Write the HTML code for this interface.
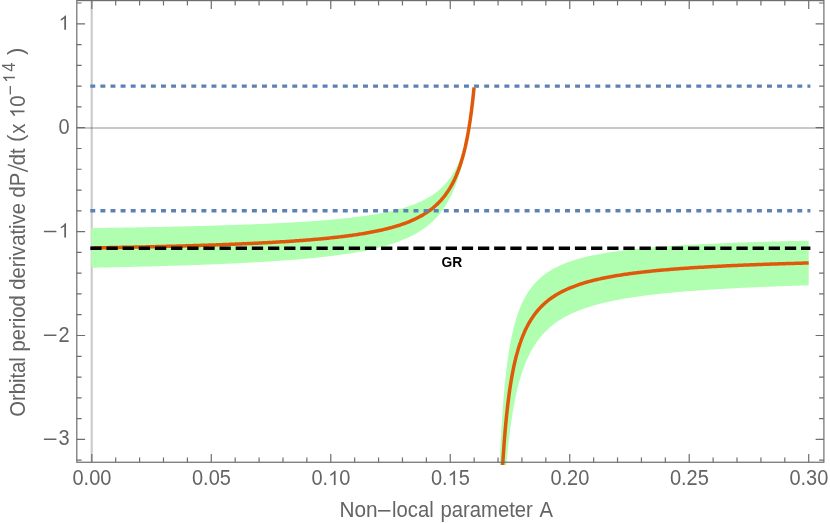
<!DOCTYPE html>
<html><head><meta charset="utf-8"><title>Orbital period derivative</title>
<style>html,body{margin:0;padding:0;background:#fff;width:830px;height:523px;overflow:hidden;font-family:"Liberation Sans",sans-serif}</style></head>
<body>
<svg width="830" height="523" viewBox="0 0 830 523" style="display:block;position:absolute;left:0;top:0;will-change:transform">
<rect width="830" height="523" fill="#ffffff"/>
<defs><clipPath id="c"><rect x="76.8" y="0" width="747.1" height="464.9"/></clipPath></defs>
<line x1="76.8" x2="823.9" y1="127.90" y2="127.90" stroke="#000" stroke-opacity="0.21" stroke-width="2.0"/>
<line x1="91.70" x2="91.70" y1="0.6" y2="462.25" stroke="#000" stroke-opacity="0.21" stroke-width="2.1"/>
<g clip-path="url(#c)">
<path d="M91.32,228.09 L92.60,228.07 L93.88,228.05 L95.16,228.03 L96.44,228.01 L97.72,228.00 L99.00,227.98 L100.28,227.96 L101.56,227.94 L102.84,227.92 L104.12,227.90 L105.40,227.88 L106.68,227.86 L107.96,227.84 L109.24,227.82 L110.52,227.80 L111.80,227.79 L113.08,227.77 L114.36,227.74 L115.64,227.72 L116.92,227.70 L118.20,227.68 L119.48,227.66 L120.76,227.64 L122.04,227.62 L123.32,227.60 L124.60,227.58 L125.88,227.56 L127.16,227.54 L128.44,227.51 L129.72,227.49 L131.00,227.47 L132.28,227.45 L133.56,227.43 L134.85,227.40 L136.13,227.38 L137.41,227.36 L138.69,227.33 L139.97,227.31 L141.25,227.29 L142.53,227.26 L143.81,227.24 L145.09,227.22 L146.37,227.19 L147.65,227.17 L148.93,227.14 L150.21,227.12 L151.49,227.10 L152.77,227.07 L154.05,227.04 L155.33,227.02 L156.61,226.99 L157.89,226.97 L159.17,226.94 L160.45,226.92 L161.73,226.89 L163.01,226.86 L164.29,226.84 L165.57,226.81 L166.85,226.78 L168.13,226.76 L169.41,226.73 L170.69,226.70 L171.97,226.67 L173.25,226.64 L174.53,226.61 L175.81,226.59 L177.09,226.56 L178.37,226.53 L179.65,226.50 L180.93,226.47 L182.21,226.44 L183.49,226.41 L184.77,226.38 L186.05,226.35 L187.33,226.32 L188.61,226.29 L189.89,226.25 L191.17,226.22 L192.45,226.19 L193.73,226.16 L195.01,226.12 L196.29,226.09 L197.57,226.06 L198.85,226.03 L200.13,225.99 L201.41,225.96 L202.69,225.92 L203.97,225.89 L205.25,225.85 L206.53,225.82 L207.81,225.78 L209.09,225.75 L210.37,225.71 L211.65,225.67 L212.93,225.64 L214.21,225.60 L215.49,225.56 L216.77,225.52 L218.05,225.49 L219.33,225.45 L220.61,225.41 L221.89,225.37 L223.17,225.33 L224.45,225.29 L225.73,225.25 L227.01,225.21 L228.29,225.17 L229.57,225.12 L230.85,225.08 L232.13,225.04 L233.41,225.00 L234.69,224.95 L235.97,224.91 L237.25,224.86 L238.53,224.82 L239.81,224.77 L241.09,224.73 L242.37,224.68 L243.65,224.63 L244.93,224.59 L246.21,224.54 L247.49,224.49 L248.77,224.44 L250.05,224.39 L251.33,224.34 L252.61,224.29 L253.89,224.24 L255.17,224.19 L256.45,224.14 L257.73,224.09 L259.01,224.03 L260.29,223.98 L261.57,223.93 L262.85,223.87 L264.13,223.82 L265.41,223.76 L266.69,223.70 L267.97,223.65 L269.25,223.59 L270.53,223.53 L271.81,223.47 L273.09,223.41 L274.37,223.35 L275.65,223.29 L276.93,223.22 L278.21,223.16 L279.49,223.10 L280.78,223.03 L282.06,222.97 L283.34,222.90 L284.62,222.83 L285.90,222.76 L287.18,222.70 L288.46,222.63 L289.74,222.56 L291.02,222.48 L292.30,222.41 L293.58,222.34 L294.86,222.26 L296.14,222.19 L297.42,222.11 L298.70,222.04 L299.98,221.96 L301.26,221.88 L302.54,221.80 L303.82,221.72 L305.10,221.63 L306.38,221.55 L307.66,221.46 L308.94,221.38 L310.22,221.29 L311.50,221.20 L312.78,221.11 L314.06,221.02 L315.34,220.93 L316.62,220.83 L317.90,220.74 L319.18,220.64 L320.46,220.54 L321.74,220.44 L323.02,220.34 L324.30,220.24 L325.58,220.13 L326.86,220.03 L328.14,219.92 L329.42,219.81 L330.70,219.70 L331.98,219.58 L333.26,219.47 L334.54,219.35 L335.82,219.23 L337.10,219.11 L338.38,218.99 L339.66,218.86 L340.94,218.74 L342.22,218.61 L343.50,218.48 L344.78,218.34 L346.06,218.21 L347.34,218.07 L348.62,217.93 L349.90,217.78 L351.18,217.64 L352.46,217.49 L353.74,217.33 L355.02,217.18 L356.30,217.02 L357.58,216.86 L358.86,216.70 L360.14,216.53 L361.42,216.36 L362.70,216.19 L363.98,216.01 L365.26,215.83 L366.54,215.64 L367.82,215.45 L369.10,215.26 L370.38,215.06 L371.66,214.86 L372.94,214.66 L374.22,214.45 L375.50,214.23 L376.78,214.01 L378.06,213.79 L379.34,213.56 L380.62,213.32 L381.90,213.08 L383.18,212.83 L384.46,212.58 L385.74,212.32 L387.02,212.06 L388.30,211.78 L389.58,211.50 L390.86,211.22 L392.14,210.92 L393.42,210.62 L394.70,210.31 L395.98,210.00 L397.26,209.67 L398.54,209.33 L399.82,208.99 L401.10,208.63 L402.38,208.27 L403.66,207.89 L404.94,207.50 L406.22,207.10 L407.50,206.69 L408.78,206.26 L410.06,205.83 L411.34,205.37 L412.62,204.90 L413.90,204.42 L415.18,203.92 L416.46,203.40 L417.74,202.87 L419.02,202.31 L420.30,201.74 L421.58,201.14 L422.86,200.52 L424.14,199.87 L425.43,199.20 L426.71,198.51 L427.99,197.78 L429.27,197.02 L430.55,196.24 L431.83,195.41 L433.11,194.55 L434.39,193.65 L435.67,192.71 L436.95,191.72 L438.23,190.68 L439.51,189.59 L440.79,188.45 L442.07,187.24 L443.35,185.97 L444.63,184.62 L445.91,183.20 L447.19,181.69 L448.47,180.09 L449.75,178.38 L451.03,176.57 L452.31,174.63 L453.59,172.55 L454.87,170.33 L456.15,167.93 L457.43,165.35 L458.71,162.56 L459.99,159.52 L461.27,156.22 L462.55,152.61 L463.83,148.65 L465.11,144.28 L466.39,139.44 L467.67,134.04 L468.95,127.98 L470.23,121.14 L471.51,113.36 L472.79,104.42 L474.07,94.04 L474.07,80.73 L472.79,95.21 L471.51,107.69 L470.23,118.55 L468.95,128.09 L467.67,136.54 L466.39,144.07 L465.11,150.83 L463.83,156.93 L462.55,162.46 L461.27,167.50 L459.99,172.10 L458.71,176.33 L457.43,180.23 L456.15,183.83 L454.87,187.17 L453.59,190.28 L452.31,193.18 L451.03,195.88 L449.75,198.41 L448.47,200.79 L447.19,203.02 L445.91,205.13 L444.63,207.12 L443.35,208.99 L442.07,210.77 L440.79,212.46 L439.51,214.05 L438.23,215.57 L436.95,217.02 L435.67,218.40 L434.39,219.72 L433.11,220.97 L431.83,222.17 L430.55,223.32 L429.27,224.42 L427.99,225.48 L426.71,226.49 L425.43,227.46 L424.14,228.40 L422.86,229.30 L421.58,230.16 L420.30,230.99 L419.02,231.80 L417.74,232.57 L416.46,233.32 L415.18,234.04 L413.90,234.74 L412.62,235.42 L411.34,236.07 L410.06,236.70 L408.78,237.31 L407.50,237.91 L406.22,238.48 L404.94,239.04 L403.66,239.58 L402.38,240.11 L401.10,240.62 L399.82,241.11 L398.54,241.60 L397.26,242.06 L395.98,242.52 L394.70,242.96 L393.42,243.40 L392.14,243.82 L390.86,244.23 L389.58,244.63 L388.30,245.01 L387.02,245.39 L385.74,245.76 L384.46,246.13 L383.18,246.48 L381.90,246.82 L380.62,247.16 L379.34,247.49 L378.06,247.81 L376.78,248.12 L375.50,248.43 L374.22,248.73 L372.94,249.02 L371.66,249.31 L370.38,249.59 L369.10,249.86 L367.82,250.13 L366.54,250.40 L365.26,250.65 L363.98,250.91 L362.70,251.16 L361.42,251.40 L360.14,251.64 L358.86,251.87 L357.58,252.10 L356.30,252.32 L355.02,252.54 L353.74,252.76 L352.46,252.97 L351.18,253.18 L349.90,253.38 L348.62,253.58 L347.34,253.78 L346.06,253.98 L344.78,254.17 L343.50,254.35 L342.22,254.54 L340.94,254.72 L339.66,254.89 L338.38,255.07 L337.10,255.24 L335.82,255.41 L334.54,255.57 L333.26,255.74 L331.98,255.90 L330.70,256.06 L329.42,256.21 L328.14,256.36 L326.86,256.51 L325.58,256.66 L324.30,256.81 L323.02,256.95 L321.74,257.09 L320.46,257.23 L319.18,257.37 L317.90,257.51 L316.62,257.64 L315.34,257.77 L314.06,257.90 L312.78,258.03 L311.50,258.15 L310.22,258.28 L308.94,258.40 L307.66,258.52 L306.38,258.64 L305.10,258.76 L303.82,258.87 L302.54,258.98 L301.26,259.10 L299.98,259.21 L298.70,259.32 L297.42,259.43 L296.14,259.53 L294.86,259.64 L293.58,259.74 L292.30,259.84 L291.02,259.94 L289.74,260.04 L288.46,260.14 L287.18,260.24 L285.90,260.34 L284.62,260.43 L283.34,260.52 L282.06,260.62 L280.78,260.71 L279.49,260.80 L278.21,260.89 L276.93,260.98 L275.65,261.06 L274.37,261.15 L273.09,261.23 L271.81,261.32 L270.53,261.40 L269.25,261.48 L267.97,261.56 L266.69,261.64 L265.41,261.72 L264.13,261.80 L262.85,261.88 L261.57,261.96 L260.29,262.03 L259.01,262.11 L257.73,262.18 L256.45,262.25 L255.17,262.33 L253.89,262.40 L252.61,262.47 L251.33,262.54 L250.05,262.61 L248.77,262.68 L247.49,262.74 L246.21,262.81 L244.93,262.88 L243.65,262.94 L242.37,263.01 L241.09,263.07 L239.81,263.14 L238.53,263.20 L237.25,263.26 L235.97,263.33 L234.69,263.39 L233.41,263.45 L232.13,263.51 L230.85,263.57 L229.57,263.63 L228.29,263.68 L227.01,263.74 L225.73,263.80 L224.45,263.86 L223.17,263.91 L221.89,263.97 L220.61,264.02 L219.33,264.08 L218.05,264.13 L216.77,264.18 L215.49,264.24 L214.21,264.29 L212.93,264.34 L211.65,264.39 L210.37,264.44 L209.09,264.50 L207.81,264.55 L206.53,264.60 L205.25,264.64 L203.97,264.69 L202.69,264.74 L201.41,264.79 L200.13,264.84 L198.85,264.88 L197.57,264.93 L196.29,264.98 L195.01,265.02 L193.73,265.07 L192.45,265.11 L191.17,265.16 L189.89,265.20 L188.61,265.25 L187.33,265.29 L186.05,265.33 L184.77,265.38 L183.49,265.42 L182.21,265.46 L180.93,265.50 L179.65,265.54 L178.37,265.59 L177.09,265.63 L175.81,265.67 L174.53,265.71 L173.25,265.75 L171.97,265.79 L170.69,265.83 L169.41,265.86 L168.13,265.90 L166.85,265.94 L165.57,265.98 L164.29,266.02 L163.01,266.05 L161.73,266.09 L160.45,266.13 L159.17,266.16 L157.89,266.20 L156.61,266.24 L155.33,266.27 L154.05,266.31 L152.77,266.34 L151.49,266.38 L150.21,266.41 L148.93,266.45 L147.65,266.48 L146.37,266.51 L145.09,266.55 L143.81,266.58 L142.53,266.61 L141.25,266.65 L139.97,266.68 L138.69,266.71 L137.41,266.74 L136.13,266.78 L134.85,266.81 L133.56,266.84 L132.28,266.87 L131.00,266.90 L129.72,266.93 L128.44,266.96 L127.16,266.99 L125.88,267.02 L124.60,267.05 L123.32,267.08 L122.04,267.11 L120.76,267.14 L119.48,267.17 L118.20,267.20 L116.92,267.23 L115.64,267.26 L114.36,267.28 L113.08,267.31 L111.80,267.34 L110.52,267.37 L109.24,267.39 L107.96,267.42 L106.68,267.45 L105.40,267.48 L104.12,267.50 L102.84,267.53 L101.56,267.56 L100.28,267.58 L99.00,267.61 L97.72,267.63 L96.44,267.66 L95.16,267.69 L93.88,267.71 L92.60,267.74 L91.32,267.76Z" fill="#b0ffb0"/>
<path d="M495.66,627.79 L495.79,619.21 L495.91,610.99 L496.04,603.12 L496.16,595.56 L496.29,588.31 L496.41,581.34 L496.54,574.65 L496.67,568.20 L496.79,562.00 L496.92,556.02 L497.04,550.25 L497.17,544.69 L497.29,539.32 L497.42,534.13 L497.55,529.11 L497.67,524.26 L497.80,519.57 L497.92,515.02 L498.05,510.62 L498.17,506.36 L498.30,502.22 L498.43,498.20 L498.55,494.31 L498.68,490.53 L498.80,486.85 L498.93,483.28 L499.06,479.81 L499.18,476.43 L499.31,473.15 L499.43,469.95 L499.56,466.84 L499.68,463.81 L499.81,460.85 L499.94,457.98 L500.06,455.17 L500.19,452.43 L500.31,449.76 L500.44,447.15 L500.56,444.61 L500.69,442.13 L500.82,439.70 L500.94,437.33 L501.07,435.01 L501.19,432.75 L501.32,430.53 L501.44,428.37 L501.57,426.25 L501.70,424.18 L501.82,422.15 L501.95,420.16 L502.07,418.22 L502.20,416.31 L502.33,414.45 L502.45,412.62 L502.58,410.83 L502.70,409.07 L502.83,407.35 L502.95,405.66 L503.08,404.01 L503.21,402.38 L503.33,400.79 L503.46,399.23 L503.58,397.69 L503.71,396.19 L503.83,394.71 L503.96,393.26 L504.09,391.83 L504.21,390.43 L504.34,389.05 L504.46,387.70 L504.59,386.37 L504.72,385.07 L504.84,383.78 L504.97,382.52 L505.09,381.28 L505.22,380.06 L505.34,378.86 L505.47,377.68 L505.60,376.51 L505.72,375.37 L505.85,374.25 L505.97,373.14 L506.10,372.05 L506.22,370.97 L506.35,369.92 L506.48,368.88 L506.60,367.85 L506.73,366.84 L506.85,365.85 L506.98,364.87 L507.10,363.90 L507.23,362.95 L507.36,362.01 L507.48,361.09 L507.61,360.18 L507.73,359.28 L507.86,358.40 L507.99,357.52 L508.11,356.66 L508.24,355.81 L508.36,354.98 L508.49,354.15 L508.61,353.34 L508.74,352.53 L508.87,351.74 L508.99,350.96 L509.12,350.19 L509.24,349.42 L509.37,348.67 L509.49,347.93 L509.62,347.20 L509.75,346.47 L509.87,345.76 L510.00,345.05 L510.12,344.36 L510.25,343.67 L510.37,342.99 L510.50,342.32 L510.63,341.66 L510.75,341.00 L510.88,340.35 L511.00,339.71 L511.13,339.08 L511.26,338.46 L511.38,337.84 L511.51,337.23 L511.63,336.63 L511.76,336.03 L511.88,335.45 L512.01,334.86 L512.14,334.29 L512.26,333.72 L512.39,333.16 L512.51,332.60 L512.64,332.05 L512.76,331.51 L512.89,330.97 L513.02,330.44 L513.14,329.91 L513.27,329.39 L513.39,328.88 L513.52,328.37 L513.64,327.86 L513.77,327.36 L513.90,326.87 L514.02,326.38 L514.15,325.90 L514.27,325.42 L514.40,324.95 L514.53,324.48 L514.65,324.02 L514.78,323.56 L514.90,323.10 L515.03,322.65 L515.15,322.21 L515.28,321.77 L515.41,321.33 L515.53,320.90 L515.66,320.47 L515.78,320.05 L515.91,319.63 L516.03,319.21 L516.16,318.80 L516.29,318.39 L516.41,317.99 L516.54,317.59 L516.66,317.20 L516.79,316.80 L516.92,316.41 L517.04,316.03 L517.17,315.65 L517.29,315.27 L517.42,314.90 L517.54,314.52 L517.67,314.16 L517.80,313.79 L517.92,313.43 L518.05,313.07 L518.17,312.72 L518.30,312.37 L518.42,312.02 L518.55,311.67 L518.68,311.33 L518.80,310.99 L518.93,310.66 L519.05,310.32 L519.18,309.99 L519.30,309.66 L519.43,309.34 L519.56,309.02 L519.68,308.70 L519.81,308.38 L519.93,308.07 L520.06,307.76 L520.19,307.45 L520.31,307.14 L520.44,306.84 L520.56,306.54 L520.69,306.24 L520.81,305.94 L520.94,305.65 L521.07,305.36 L521.19,305.07 L521.32,304.78 L521.44,304.50 L521.57,304.21 L521.69,303.93 L521.82,303.65 L521.95,303.38 L522.07,303.11 L522.20,302.83 L522.32,302.57 L522.45,302.30 L522.57,302.03 L522.70,301.77 L522.83,301.51 L522.95,301.25 L523.08,300.99 L523.20,300.74 L523.33,300.48 L523.46,300.23 L523.58,299.98 L523.71,299.74 L523.83,299.49 L523.96,299.25 L524.08,299.01 L524.21,298.76 L524.34,298.53 L524.46,298.29 L524.59,298.05 L524.71,297.82 L524.84,297.59 L524.96,297.36 L525.09,297.13 L525.22,296.90 L525.34,296.68 L525.47,296.46 L525.59,296.23 L525.72,296.01 L525.84,295.79 L525.97,295.58 L526.10,295.36 L526.22,295.15 L526.35,294.93 L526.47,294.72 L526.60,294.51 L526.73,294.30 L526.85,294.10 L526.98,293.89 L527.10,293.69 L527.23,293.49 L527.35,293.28 L527.48,293.08 L527.61,292.88 L527.73,292.69 L527.86,292.49 L527.98,292.30 L528.11,292.10 L528.23,291.91 L528.36,291.72 L528.49,291.53 L528.61,291.34 L528.74,291.15 L528.86,290.97 L528.99,290.78 L529.12,290.60 L529.24,290.42 L529.37,290.24 L529.49,290.06 L529.62,289.88 L529.74,289.70 L529.87,289.52 L530.00,289.35 L530.12,289.17 L530.25,289.00 L530.37,288.83 L530.50,288.65 L530.62,288.48 L530.75,288.31 L530.88,288.15 L531.00,287.98 L531.13,287.81 L531.25,287.65 L531.38,287.48 L531.50,287.32 L531.63,287.16 L531.76,287.00 L531.88,286.84 L532.01,286.68 L532.13,286.52 L532.26,286.36 L532.39,286.21 L532.51,286.05 L532.64,285.90 L532.76,285.74 L532.89,285.59 L533.01,285.44 L533.14,285.29 L533.27,285.14 L533.39,284.99 L533.52,284.84 L533.64,284.69 L533.77,284.55 L533.89,284.40 L534.02,284.25 L534.15,284.11 L534.27,283.97 L534.40,283.82 L534.52,283.68 L534.65,283.54 L534.77,283.40 L534.90,283.26 L535.03,283.12 L535.15,282.99 L535.28,282.85 L535.40,282.71 L535.53,282.58 L535.66,282.44 L535.78,282.31 L535.91,282.18 L536.03,282.04 L536.16,281.91 L536.28,281.78 L536.41,281.65 L536.54,281.52 L536.66,281.39 L536.79,281.26 L536.91,281.13 L537.04,281.01 L537.16,280.88 L537.29,280.76 L537.42,280.63 L537.54,280.51 L537.67,280.38 L537.79,280.26 L537.92,280.14 L538.05,280.02 L538.17,279.89 L538.30,279.77 L538.42,279.65 L538.55,279.54 L538.67,279.42 L538.80,279.30 L538.93,279.18 L539.05,279.07 L539.18,278.95 L539.30,278.83 L539.43,278.72 L539.55,278.60 L539.68,278.49 L539.81,278.38 L539.93,278.26 L540.06,278.15 L540.18,278.04 L540.31,277.93 L540.43,277.82 L540.56,277.71 L540.69,277.60 L540.81,277.49 L540.94,277.38 L541.06,277.28 L541.19,277.17 L541.32,277.06 L541.44,276.96 L541.57,276.85 L541.69,276.75 L541.82,276.64 L541.94,276.54 L542.07,276.43 L542.20,276.33 L542.32,276.23 L542.45,276.13 L542.57,276.02 L542.70,275.92 L542.82,275.82 L542.95,275.72 L543.08,275.62 L543.20,275.52 L543.33,275.42 L543.45,275.33 L543.58,275.23 L543.70,275.13 L543.83,275.03 L543.96,274.94 L544.08,274.84 L544.21,274.75 L544.33,274.65 L544.46,274.56 L544.59,274.46 L544.71,274.37 L544.84,274.27 L544.96,274.18 L545.09,274.09 L545.21,274.00 L545.34,273.91 L545.47,273.81 L545.59,273.72 L545.72,273.63 L545.84,273.54 L547.16,272.62 L548.48,271.74 L549.81,270.90 L551.13,270.10 L552.45,269.33 L553.77,268.59 L555.09,267.88 L556.41,267.20 L557.73,266.54 L559.05,265.91 L560.37,265.31 L561.69,264.73 L563.02,264.16 L564.34,263.62 L565.66,263.10 L566.98,262.59 L568.30,262.11 L569.62,261.63 L570.94,261.18 L572.26,260.74 L573.58,260.31 L574.90,259.89 L576.22,259.49 L577.55,259.10 L578.87,258.72 L580.19,258.36 L581.51,258.00 L582.83,257.65 L584.15,257.32 L585.47,256.99 L586.79,256.67 L588.11,256.36 L589.43,256.06 L590.75,255.77 L592.08,255.48 L593.40,255.20 L594.72,254.93 L596.04,254.67 L597.36,254.41 L598.68,254.16 L600.00,253.91 L601.32,253.67 L602.64,253.44 L603.96,253.21 L605.29,252.98 L606.61,252.76 L607.93,252.55 L609.25,252.34 L610.57,252.14 L611.89,251.94 L613.21,251.74 L614.53,251.55 L615.85,251.36 L617.17,251.18 L618.49,251.00 L619.82,250.82 L621.14,250.65 L622.46,250.48 L623.78,250.31 L625.10,250.15 L626.42,249.99 L627.74,249.83 L629.06,249.68 L630.38,249.53 L631.70,249.38 L633.03,249.24 L634.35,249.09 L635.67,248.95 L636.99,248.82 L638.31,248.68 L639.63,248.55 L640.95,248.42 L642.27,248.29 L643.59,248.17 L644.91,248.04 L646.23,247.92 L647.56,247.80 L648.88,247.68 L650.20,247.57 L651.52,247.45 L652.84,247.34 L654.16,247.23 L655.48,247.12 L656.80,247.02 L658.12,246.91 L659.44,246.81 L660.76,246.71 L662.09,246.61 L663.41,246.51 L664.73,246.41 L666.05,246.32 L667.37,246.22 L668.69,246.13 L670.01,246.04 L671.33,245.95 L672.65,245.86 L673.97,245.77 L675.30,245.69 L676.62,245.60 L677.94,245.52 L679.26,245.43 L680.58,245.35 L681.90,245.27 L683.22,245.19 L684.54,245.11 L685.86,245.04 L687.18,244.96 L688.50,244.89 L689.83,244.81 L691.15,244.74 L692.47,244.67 L693.79,244.60 L695.11,244.53 L696.43,244.46 L697.75,244.39 L699.07,244.32 L700.39,244.25 L701.71,244.19 L703.03,244.12 L704.36,244.06 L705.68,243.99 L707.00,243.93 L708.32,243.87 L709.64,243.81 L710.96,243.75 L712.28,243.69 L713.60,243.63 L714.92,243.57 L716.24,243.51 L717.57,243.45 L718.89,243.40 L720.21,243.34 L721.53,243.29 L722.85,243.23 L724.17,243.18 L725.49,243.12 L726.81,243.07 L728.13,243.02 L729.45,242.97 L730.77,242.92 L732.10,242.87 L733.42,242.82 L734.74,242.77 L736.06,242.72 L737.38,242.67 L738.70,242.62 L740.02,242.58 L741.34,242.53 L742.66,242.48 L743.98,242.44 L745.30,242.39 L746.63,242.35 L747.95,242.30 L749.27,242.26 L750.59,242.21 L751.91,242.17 L753.23,242.13 L754.55,242.09 L755.87,242.04 L757.19,242.00 L758.51,241.96 L759.84,241.92 L761.16,241.88 L762.48,241.84 L763.80,241.80 L765.12,241.76 L766.44,241.72 L767.76,241.69 L769.08,241.65 L770.40,241.61 L771.72,241.57 L773.04,241.54 L774.37,241.50 L775.69,241.46 L777.01,241.43 L778.33,241.39 L779.65,241.36 L780.97,241.32 L782.29,241.29 L783.61,241.25 L784.93,241.22 L786.25,241.19 L787.57,241.15 L788.90,241.12 L790.22,241.09 L791.54,241.05 L792.86,241.02 L794.18,240.99 L795.50,240.96 L796.82,240.93 L798.14,240.90 L799.46,240.86 L800.78,240.83 L802.11,240.80 L803.43,240.77 L804.75,240.74 L806.07,240.71 L807.39,240.69 L808.71,240.66 L808.71,285.30 L807.39,285.34 L806.07,285.38 L804.75,285.42 L803.43,285.46 L802.11,285.50 L800.78,285.55 L799.46,285.59 L798.14,285.63 L796.82,285.68 L795.50,285.72 L794.18,285.76 L792.86,285.81 L791.54,285.85 L790.22,285.90 L788.90,285.94 L787.57,285.99 L786.25,286.04 L784.93,286.08 L783.61,286.13 L782.29,286.18 L780.97,286.23 L779.65,286.28 L778.33,286.32 L777.01,286.37 L775.69,286.42 L774.37,286.47 L773.04,286.53 L771.72,286.58 L770.40,286.63 L769.08,286.68 L767.76,286.73 L766.44,286.79 L765.12,286.84 L763.80,286.90 L762.48,286.95 L761.16,287.01 L759.84,287.06 L758.51,287.12 L757.19,287.18 L755.87,287.23 L754.55,287.29 L753.23,287.35 L751.91,287.41 L750.59,287.47 L749.27,287.53 L747.95,287.59 L746.63,287.66 L745.30,287.72 L743.98,287.78 L742.66,287.85 L741.34,287.91 L740.02,287.98 L738.70,288.04 L737.38,288.11 L736.06,288.18 L734.74,288.24 L733.42,288.31 L732.10,288.38 L730.77,288.45 L729.45,288.52 L728.13,288.60 L726.81,288.67 L725.49,288.74 L724.17,288.82 L722.85,288.89 L721.53,288.97 L720.21,289.04 L718.89,289.12 L717.57,289.20 L716.24,289.28 L714.92,289.36 L713.60,289.44 L712.28,289.53 L710.96,289.61 L709.64,289.69 L708.32,289.78 L707.00,289.87 L705.68,289.95 L704.36,290.04 L703.03,290.13 L701.71,290.22 L700.39,290.32 L699.07,290.41 L697.75,290.50 L696.43,290.60 L695.11,290.70 L693.79,290.79 L692.47,290.89 L691.15,290.99 L689.83,291.10 L688.50,291.20 L687.18,291.30 L685.86,291.41 L684.54,291.52 L683.22,291.63 L681.90,291.74 L680.58,291.85 L679.26,291.96 L677.94,292.08 L676.62,292.20 L675.30,292.31 L673.97,292.44 L672.65,292.56 L671.33,292.68 L670.01,292.81 L668.69,292.93 L667.37,293.06 L666.05,293.20 L664.73,293.33 L663.41,293.46 L662.09,293.60 L660.76,293.74 L659.44,293.88 L658.12,294.03 L656.80,294.17 L655.48,294.32 L654.16,294.47 L652.84,294.63 L651.52,294.78 L650.20,294.94 L648.88,295.10 L647.56,295.27 L646.23,295.43 L644.91,295.60 L643.59,295.78 L642.27,295.95 L640.95,296.13 L639.63,296.31 L638.31,296.50 L636.99,296.68 L635.67,296.88 L634.35,297.07 L633.03,297.27 L631.70,297.47 L630.38,297.68 L629.06,297.89 L627.74,298.10 L626.42,298.32 L625.10,298.54 L623.78,298.77 L622.46,299.00 L621.14,299.24 L619.82,299.48 L618.49,299.73 L617.17,299.98 L615.85,300.23 L614.53,300.49 L613.21,300.76 L611.89,301.04 L610.57,301.31 L609.25,301.60 L607.93,301.89 L606.61,302.19 L605.29,302.50 L603.96,302.81 L602.64,303.13 L601.32,303.45 L600.00,303.79 L598.68,304.13 L597.36,304.48 L596.04,304.85 L594.72,305.21 L593.40,305.59 L592.08,305.98 L590.75,306.38 L589.43,306.79 L588.11,307.21 L586.79,307.64 L585.47,308.09 L584.15,308.54 L582.83,309.01 L581.51,309.50 L580.19,309.99 L578.87,310.51 L577.55,311.03 L576.22,311.58 L574.90,312.14 L573.58,312.72 L572.26,313.31 L570.94,313.93 L569.62,314.57 L568.30,315.22 L566.98,315.91 L565.66,316.61 L564.34,317.34 L563.02,318.10 L561.69,318.88 L560.37,319.69 L559.05,320.54 L557.73,321.42 L556.41,322.33 L555.09,323.28 L553.77,324.27 L552.45,325.30 L551.13,326.37 L549.81,327.49 L548.48,328.67 L547.16,329.90 L545.84,331.18 L545.72,331.31 L545.59,331.43 L545.47,331.56 L545.34,331.69 L545.21,331.82 L545.09,331.94 L544.96,332.07 L544.84,332.20 L544.71,332.33 L544.59,332.46 L544.46,332.60 L544.33,332.73 L544.21,332.86 L544.08,332.99 L543.96,333.13 L543.83,333.26 L543.70,333.40 L543.58,333.53 L543.45,333.67 L543.33,333.81 L543.20,333.94 L543.08,334.08 L542.95,334.22 L542.82,334.36 L542.70,334.50 L542.57,334.64 L542.45,334.78 L542.32,334.93 L542.20,335.07 L542.07,335.21 L541.94,335.36 L541.82,335.50 L541.69,335.65 L541.57,335.80 L541.44,335.94 L541.32,336.09 L541.19,336.24 L541.06,336.39 L540.94,336.54 L540.81,336.69 L540.69,336.84 L540.56,337.00 L540.43,337.15 L540.31,337.30 L540.18,337.46 L540.06,337.61 L539.93,337.77 L539.81,337.93 L539.68,338.08 L539.55,338.24 L539.43,338.40 L539.30,338.56 L539.18,338.72 L539.05,338.89 L538.93,339.05 L538.80,339.21 L538.67,339.38 L538.55,339.54 L538.42,339.71 L538.30,339.88 L538.17,340.04 L538.05,340.21 L537.92,340.38 L537.79,340.55 L537.67,340.72 L537.54,340.90 L537.42,341.07 L537.29,341.24 L537.16,341.42 L537.04,341.60 L536.91,341.77 L536.79,341.95 L536.66,342.13 L536.54,342.31 L536.41,342.49 L536.28,342.67 L536.16,342.86 L536.03,343.04 L535.91,343.23 L535.78,343.41 L535.66,343.60 L535.53,343.79 L535.40,343.98 L535.28,344.17 L535.15,344.36 L535.03,344.55 L534.90,344.74 L534.77,344.94 L534.65,345.13 L534.52,345.33 L534.40,345.53 L534.27,345.73 L534.15,345.93 L534.02,346.13 L533.89,346.33 L533.77,346.53 L533.64,346.74 L533.52,346.94 L533.39,347.15 L533.27,347.36 L533.14,347.57 L533.01,347.78 L532.89,347.99 L532.76,348.20 L532.64,348.42 L532.51,348.63 L532.39,348.85 L532.26,349.07 L532.13,349.29 L532.01,349.51 L531.88,349.73 L531.76,349.95 L531.63,350.18 L531.50,350.40 L531.38,350.63 L531.25,350.86 L531.13,351.09 L531.00,351.32 L530.88,351.56 L530.75,351.79 L530.62,352.03 L530.50,352.26 L530.37,352.50 L530.25,352.74 L530.12,352.99 L530.00,353.23 L529.87,353.48 L529.74,353.72 L529.62,353.97 L529.49,354.22 L529.37,354.47 L529.24,354.72 L529.12,354.98 L528.99,355.24 L528.86,355.49 L528.74,355.75 L528.61,356.01 L528.49,356.28 L528.36,356.54 L528.23,356.81 L528.11,357.08 L527.98,357.35 L527.86,357.62 L527.73,357.89 L527.61,358.17 L527.48,358.44 L527.35,358.72 L527.23,359.01 L527.10,359.29 L526.98,359.57 L526.85,359.86 L526.73,360.15 L526.60,360.44 L526.47,360.73 L526.35,361.03 L526.22,361.32 L526.10,361.62 L525.97,361.92 L525.84,362.23 L525.72,362.53 L525.59,362.84 L525.47,363.15 L525.34,363.46 L525.22,363.78 L525.09,364.09 L524.96,364.41 L524.84,364.73 L524.71,365.05 L524.59,365.38 L524.46,365.71 L524.34,366.04 L524.21,366.37 L524.08,366.71 L523.96,367.04 L523.83,367.38 L523.71,367.73 L523.58,368.07 L523.46,368.42 L523.33,368.77 L523.20,369.12 L523.08,369.48 L522.95,369.84 L522.83,370.20 L522.70,370.56 L522.57,370.93 L522.45,371.30 L522.32,371.67 L522.20,372.05 L522.07,372.43 L521.95,372.81 L521.82,373.19 L521.69,373.58 L521.57,373.97 L521.44,374.37 L521.32,374.76 L521.19,375.16 L521.07,375.57 L520.94,375.97 L520.81,376.38 L520.69,376.80 L520.56,377.21 L520.44,377.63 L520.31,378.06 L520.19,378.49 L520.06,378.92 L519.93,379.35 L519.81,379.79 L519.68,380.23 L519.56,380.68 L519.43,381.13 L519.30,381.58 L519.18,382.04 L519.05,382.50 L518.93,382.96 L518.80,383.43 L518.68,383.90 L518.55,384.38 L518.42,384.86 L518.30,385.35 L518.17,385.84 L518.05,386.34 L517.92,386.83 L517.80,387.34 L517.67,387.85 L517.54,388.36 L517.42,388.88 L517.29,389.40 L517.17,389.93 L517.04,390.46 L516.92,391.00 L516.79,391.54 L516.66,392.09 L516.54,392.64 L516.41,393.20 L516.29,393.76 L516.16,394.33 L516.03,394.90 L515.91,395.48 L515.78,396.07 L515.66,396.66 L515.53,397.25 L515.41,397.86 L515.28,398.47 L515.15,399.08 L515.03,399.70 L514.90,400.33 L514.78,400.96 L514.65,401.60 L514.53,402.25 L514.40,402.90 L514.27,403.56 L514.15,404.23 L514.02,404.90 L513.90,405.59 L513.77,406.27 L513.64,406.97 L513.52,407.67 L513.39,408.38 L513.27,409.10 L513.14,409.83 L513.02,410.56 L512.89,411.30 L512.76,412.05 L512.64,412.81 L512.51,413.58 L512.39,414.36 L512.26,415.14 L512.14,415.93 L512.01,416.74 L511.88,417.55 L511.76,418.37 L511.63,419.20 L511.51,420.04 L511.38,420.89 L511.26,421.75 L511.13,422.62 L511.00,423.50 L510.88,424.40 L510.75,425.30 L510.63,426.21 L510.50,427.14 L510.37,428.07 L510.25,429.02 L510.12,429.98 L510.00,430.95 L509.87,431.94 L509.75,432.93 L509.62,433.94 L509.49,434.97 L509.37,436.00 L509.24,437.05 L509.12,438.11 L508.99,439.19 L508.87,440.28 L508.74,441.39 L508.61,442.51 L508.49,443.65 L508.36,444.80 L508.24,445.97 L508.11,447.15 L507.99,448.35 L507.86,449.57 L507.73,450.80 L507.61,452.06 L507.48,453.33 L507.36,454.62 L507.23,455.92 L507.10,457.25 L506.98,458.60 L506.85,459.97 L506.73,461.35 L506.60,462.76 L506.48,464.19 L506.35,465.64 L506.22,467.12 L506.10,468.62 L505.97,470.14 L505.85,471.68 L505.72,473.25 L505.60,474.85 L505.47,476.47 L505.34,478.12 L505.22,479.79 L505.09,481.50 L504.97,483.23 L504.84,484.99 L504.72,486.78 L504.59,488.60 L504.46,490.46 L504.34,492.34 L504.21,494.26 L504.09,496.22 L503.96,498.21 L503.83,500.23 L503.71,502.30 L503.58,504.40 L503.46,506.54 L503.33,508.72 L503.21,510.94 L503.08,513.21 L502.95,515.52 L502.83,517.87 L502.70,520.27 L502.58,522.72 L502.45,525.22 L502.33,527.77 L502.20,530.38 L502.07,533.03 L501.95,535.75 L501.82,538.52 L501.70,541.35 L501.57,544.24 L501.44,547.19 L501.32,550.21 L501.19,553.30 L501.07,556.46 L500.94,559.70 L500.82,563.00 L500.69,566.39 L500.56,569.86 L500.44,573.40 L500.31,577.04 L500.19,580.77 L500.06,584.59 L499.94,588.50 L499.81,592.52 L499.68,596.64 L499.56,600.87 L499.43,605.21 L499.31,609.67 L499.18,614.26 L499.06,618.97 L498.93,623.81 L498.80,628.79 L498.68,633.92 L498.55,639.20 L498.43,644.63 L498.30,650.23 L498.17,656.00 L498.05,661.96 L497.92,668.10 L497.80,674.44 L497.67,680.99 L497.55,687.76 L497.42,694.75 L497.29,701.99 L497.17,709.49 L497.04,717.25 L496.92,725.29 L496.79,733.63 L496.67,742.29 L496.54,751.28 L496.41,760.63 L496.29,770.35 L496.16,780.46 L496.04,791.00 L495.91,801.99 L495.79,813.46 L495.66,825.44Z" fill="#b0ffb0"/>
<path d="M91.32,247.92 L92.60,247.90 L93.88,247.88 L95.16,247.86 L96.44,247.84 L97.72,247.82 L99.00,247.79 L100.28,247.77 L101.56,247.75 L102.84,247.73 L104.12,247.70 L105.40,247.68 L106.68,247.66 L107.96,247.63 L109.24,247.61 L110.52,247.59 L111.80,247.56 L113.08,247.54 L114.36,247.51 L115.64,247.49 L116.92,247.47 L118.20,247.44 L119.48,247.42 L120.76,247.39 L122.04,247.37 L123.32,247.34 L124.60,247.32 L125.88,247.29 L127.16,247.26 L128.44,247.24 L129.72,247.21 L131.00,247.19 L132.28,247.16 L133.56,247.13 L134.85,247.10 L136.13,247.08 L137.41,247.05 L138.69,247.02 L139.97,247.00 L141.25,246.97 L142.53,246.94 L143.81,246.91 L145.09,246.88 L146.37,246.85 L147.65,246.82 L148.93,246.80 L150.21,246.77 L151.49,246.74 L152.77,246.71 L154.05,246.68 L155.33,246.65 L156.61,246.62 L157.89,246.58 L159.17,246.55 L160.45,246.52 L161.73,246.49 L163.01,246.46 L164.29,246.43 L165.57,246.39 L166.85,246.36 L168.13,246.33 L169.41,246.30 L170.69,246.26 L171.97,246.23 L173.25,246.19 L174.53,246.16 L175.81,246.13 L177.09,246.09 L178.37,246.06 L179.65,246.02 L180.93,245.99 L182.21,245.95 L183.49,245.91 L184.77,245.88 L186.05,245.84 L187.33,245.80 L188.61,245.77 L189.89,245.73 L191.17,245.69 L192.45,245.65 L193.73,245.61 L195.01,245.57 L196.29,245.53 L197.57,245.49 L198.85,245.45 L200.13,245.41 L201.41,245.37 L202.69,245.33 L203.97,245.29 L205.25,245.25 L206.53,245.21 L207.81,245.16 L209.09,245.12 L210.37,245.08 L211.65,245.03 L212.93,244.99 L214.21,244.94 L215.49,244.90 L216.77,244.85 L218.05,244.81 L219.33,244.76 L220.61,244.72 L221.89,244.67 L223.17,244.62 L224.45,244.57 L225.73,244.52 L227.01,244.47 L228.29,244.42 L229.57,244.37 L230.85,244.32 L232.13,244.27 L233.41,244.22 L234.69,244.17 L235.97,244.12 L237.25,244.06 L238.53,244.01 L239.81,243.96 L241.09,243.90 L242.37,243.85 L243.65,243.79 L244.93,243.73 L246.21,243.68 L247.49,243.62 L248.77,243.56 L250.05,243.50 L251.33,243.44 L252.61,243.38 L253.89,243.32 L255.17,243.26 L256.45,243.20 L257.73,243.13 L259.01,243.07 L260.29,243.01 L261.57,242.94 L262.85,242.87 L264.13,242.81 L265.41,242.74 L266.69,242.67 L267.97,242.60 L269.25,242.53 L270.53,242.46 L271.81,242.39 L273.09,242.32 L274.37,242.25 L275.65,242.17 L276.93,242.10 L278.21,242.02 L279.49,241.95 L280.78,241.87 L282.06,241.79 L283.34,241.71 L284.62,241.63 L285.90,241.55 L287.18,241.47 L288.46,241.38 L289.74,241.30 L291.02,241.21 L292.30,241.13 L293.58,241.04 L294.86,240.95 L296.14,240.86 L297.42,240.77 L298.70,240.68 L299.98,240.58 L301.26,240.49 L302.54,240.39 L303.82,240.29 L305.10,240.19 L306.38,240.09 L307.66,239.99 L308.94,239.89 L310.22,239.78 L311.50,239.68 L312.78,239.57 L314.06,239.46 L315.34,239.35 L316.62,239.24 L317.90,239.12 L319.18,239.01 L320.46,238.89 L321.74,238.77 L323.02,238.65 L324.30,238.52 L325.58,238.40 L326.86,238.27 L328.14,238.14 L329.42,238.01 L330.70,237.88 L331.98,237.74 L333.26,237.60 L334.54,237.46 L335.82,237.32 L337.10,237.18 L338.38,237.03 L339.66,236.88 L340.94,236.73 L342.22,236.57 L343.50,236.41 L344.78,236.25 L346.06,236.09 L347.34,235.92 L348.62,235.76 L349.90,235.58 L351.18,235.41 L352.46,235.23 L353.74,235.05 L355.02,234.86 L356.30,234.67 L357.58,234.48 L358.86,234.28 L360.14,234.08 L361.42,233.88 L362.70,233.67 L363.98,233.46 L365.26,233.24 L366.54,233.02 L367.82,232.79 L369.10,232.56 L370.38,232.33 L371.66,232.08 L372.94,231.84 L374.22,231.59 L375.50,231.33 L376.78,231.07 L378.06,230.80 L379.34,230.52 L380.62,230.24 L381.90,229.95 L383.18,229.66 L384.46,229.35 L385.74,229.04 L387.02,228.72 L388.30,228.40 L389.58,228.06 L390.86,227.72 L392.14,227.37 L393.42,227.01 L394.70,226.64 L395.98,226.26 L397.26,225.87 L398.54,225.46 L399.82,225.05 L401.10,224.62 L402.38,224.19 L403.66,223.74 L404.94,223.27 L406.22,222.79 L407.50,222.30 L408.78,221.79 L410.06,221.26 L411.34,220.72 L412.62,220.16 L413.90,219.58 L415.18,218.98 L416.46,218.36 L417.74,217.72 L419.02,217.05 L420.30,216.36 L421.58,215.65 L422.86,214.91 L424.14,214.13 L425.43,213.33 L426.71,212.50 L427.99,211.63 L429.27,210.72 L430.55,209.78 L431.83,208.79 L433.11,207.76 L434.39,206.68 L435.67,205.55 L436.95,204.37 L438.23,203.13 L439.51,201.82 L440.79,200.45 L442.07,199.01 L443.35,197.48 L444.63,195.87 L445.91,194.16 L447.19,192.36 L448.47,190.44 L449.75,188.40 L451.03,186.22 L452.31,183.90 L453.59,181.42 L454.87,178.75 L456.15,175.88 L457.43,172.79 L458.71,169.44 L459.99,165.81 L461.27,161.86 L462.55,157.54 L463.83,152.79 L465.11,147.56 L466.39,141.75 L467.67,135.29 L468.95,128.04 L470.23,119.85 L471.51,110.52 L472.79,99.81 L474.07,87.38" fill="none" stroke="#e0590b" stroke-width="3.5" stroke-linejoin="round"/>
<path d="M495.66,726.62 L495.79,716.33 L495.91,706.49 L496.04,697.06 L496.16,688.01 L496.29,679.33 L496.41,670.99 L496.54,662.96 L496.67,655.25 L496.79,647.82 L496.92,640.65 L497.04,633.75 L497.17,627.09 L497.29,620.65 L497.42,614.44 L497.55,608.43 L497.67,602.63 L497.80,597.00 L497.92,591.56 L498.05,586.29 L498.17,581.18 L498.30,576.22 L498.43,571.42 L498.55,566.75 L498.68,562.22 L498.80,557.82 L498.93,553.55 L499.06,549.39 L499.18,545.35 L499.31,541.41 L499.43,537.58 L499.56,533.86 L499.68,530.23 L499.81,526.69 L499.94,523.24 L500.06,519.88 L500.19,516.60 L500.31,513.40 L500.44,510.28 L500.56,507.23 L500.69,504.26 L500.82,501.35 L500.94,498.51 L501.07,495.74 L501.19,493.03 L501.32,490.37 L501.44,487.78 L501.57,485.24 L501.70,482.76 L501.82,480.33 L501.95,477.95 L502.07,475.62 L502.20,473.34 L502.33,471.11 L502.45,468.92 L502.58,466.78 L502.70,464.67 L502.83,462.61 L502.95,460.59 L503.08,458.61 L503.21,456.66 L503.33,454.76 L503.46,452.88 L503.58,451.05 L503.71,449.24 L503.83,447.47 L503.96,445.73 L504.09,444.03 L504.21,442.35 L504.34,440.70 L504.46,439.08 L504.59,437.49 L504.72,435.92 L504.84,434.39 L504.97,432.87 L505.09,431.39 L505.22,429.93 L505.34,428.49 L505.47,427.07 L505.60,425.68 L505.72,424.31 L505.85,422.96 L505.97,421.64 L506.10,420.33 L506.22,419.05 L506.35,417.78 L506.48,416.53 L506.60,415.31 L506.73,414.10 L506.85,412.91 L506.98,411.73 L507.10,410.58 L507.23,409.44 L507.36,408.32 L507.48,407.21 L507.61,406.12 L507.73,405.04 L507.86,403.98 L507.99,402.94 L508.11,401.91 L508.24,400.89 L508.36,399.89 L508.49,398.90 L508.61,397.92 L508.74,396.96 L508.87,396.01 L508.99,395.07 L509.12,394.15 L509.24,393.24 L509.37,392.34 L509.49,391.45 L509.62,390.57 L509.75,389.70 L509.87,388.85 L510.00,388.00 L510.12,387.17 L510.25,386.34 L510.37,385.53 L510.50,384.73 L510.63,383.93 L510.75,383.15 L510.88,382.37 L511.00,381.61 L511.13,380.85 L511.26,380.11 L511.38,379.37 L511.51,378.64 L511.63,377.92 L511.76,377.20 L511.88,376.50 L512.01,375.80 L512.14,375.11 L512.26,374.43 L512.39,373.76 L512.51,373.09 L512.64,372.43 L512.76,371.78 L512.89,371.14 L513.02,370.50 L513.14,369.87 L513.27,369.25 L513.39,368.63 L513.52,368.02 L513.64,367.42 L513.77,366.82 L513.90,366.23 L514.02,365.64 L514.15,365.07 L514.27,364.49 L514.40,363.93 L514.53,363.37 L514.65,362.81 L514.78,362.26 L514.90,361.72 L515.03,361.18 L515.15,360.65 L515.28,360.12 L515.41,359.59 L515.53,359.08 L515.66,358.57 L515.78,358.06 L515.91,357.56 L516.03,357.06 L516.16,356.57 L516.29,356.08 L516.41,355.59 L516.54,355.11 L516.66,354.64 L516.79,354.17 L516.92,353.71 L517.04,353.24 L517.17,352.79 L517.29,352.33 L517.42,351.89 L517.54,351.44 L517.67,351.00 L517.80,350.57 L517.92,350.13 L518.05,349.70 L518.17,349.28 L518.30,348.86 L518.42,348.44 L518.55,348.03 L518.68,347.62 L518.80,347.21 L518.93,346.81 L519.05,346.41 L519.18,346.01 L519.30,345.62 L519.43,345.23 L519.56,344.85 L519.68,344.46 L519.81,344.08 L519.93,343.71 L520.06,343.34 L520.19,342.97 L520.31,342.60 L520.44,342.24 L520.56,341.87 L520.69,341.52 L520.81,341.16 L520.94,340.81 L521.07,340.46 L521.19,340.11 L521.32,339.77 L521.44,339.43 L521.57,339.09 L521.69,338.76 L521.82,338.42 L521.95,338.09 L522.07,337.77 L522.20,337.44 L522.32,337.12 L522.45,336.80 L522.57,336.48 L522.70,336.17 L522.83,335.85 L522.95,335.54 L523.08,335.24 L523.20,334.93 L523.33,334.63 L523.46,334.33 L523.58,334.03 L523.71,333.73 L523.83,333.44 L523.96,333.15 L524.08,332.86 L524.21,332.57 L524.34,332.28 L524.46,332.00 L524.59,331.72 L524.71,331.44 L524.84,331.16 L524.96,330.88 L525.09,330.61 L525.22,330.34 L525.34,330.07 L525.47,329.80 L525.59,329.54 L525.72,329.27 L525.84,329.01 L525.97,328.75 L526.10,328.49 L526.22,328.24 L526.35,327.98 L526.47,327.73 L526.60,327.48 L526.73,327.23 L526.85,326.98 L526.98,326.73 L527.10,326.49 L527.23,326.25 L527.35,326.00 L527.48,325.76 L527.61,325.53 L527.73,325.29 L527.86,325.05 L527.98,324.82 L528.11,324.59 L528.23,324.36 L528.36,324.13 L528.49,323.90 L528.61,323.68 L528.74,323.45 L528.86,323.23 L528.99,323.01 L529.12,322.79 L529.24,322.57 L529.37,322.35 L529.49,322.14 L529.62,321.92 L529.74,321.71 L529.87,321.50 L530.00,321.29 L530.12,321.08 L530.25,320.87 L530.37,320.66 L530.50,320.46 L530.62,320.26 L530.75,320.05 L530.88,319.85 L531.00,319.65 L531.13,319.45 L531.25,319.25 L531.38,319.06 L531.50,318.86 L531.63,318.67 L531.76,318.48 L531.88,318.28 L532.01,318.09 L532.13,317.90 L532.26,317.72 L532.39,317.53 L532.51,317.34 L532.64,317.16 L532.76,316.97 L532.89,316.79 L533.01,316.61 L533.14,316.43 L533.27,316.25 L533.39,316.07 L533.52,315.89 L533.64,315.71 L533.77,315.54 L533.89,315.36 L534.02,315.19 L534.15,315.02 L534.27,314.85 L534.40,314.68 L534.52,314.51 L534.65,314.34 L534.77,314.17 L534.90,314.00 L535.03,313.84 L535.15,313.67 L535.28,313.51 L535.40,313.34 L535.53,313.18 L535.66,313.02 L535.78,312.86 L535.91,312.70 L536.03,312.54 L536.16,312.38 L536.28,312.23 L536.41,312.07 L536.54,311.91 L536.66,311.76 L536.79,311.61 L536.91,311.45 L537.04,311.30 L537.16,311.15 L537.29,311.00 L537.42,310.85 L537.54,310.70 L537.67,310.55 L537.79,310.41 L537.92,310.26 L538.05,310.11 L538.17,309.97 L538.30,309.83 L538.42,309.68 L538.55,309.54 L538.67,309.40 L538.80,309.26 L538.93,309.12 L539.05,308.98 L539.18,308.84 L539.30,308.70 L539.43,308.56 L539.55,308.42 L539.68,308.29 L539.81,308.15 L539.93,308.02 L540.06,307.88 L540.18,307.75 L540.31,307.62 L540.43,307.48 L540.56,307.35 L540.69,307.22 L540.81,307.09 L540.94,306.96 L541.06,306.83 L541.19,306.70 L541.32,306.58 L541.44,306.45 L541.57,306.32 L541.69,306.20 L541.82,306.07 L541.94,305.95 L542.07,305.82 L542.20,305.70 L542.32,305.58 L542.45,305.45 L542.57,305.33 L542.70,305.21 L542.82,305.09 L542.95,304.97 L543.08,304.85 L543.20,304.73 L543.33,304.62 L543.45,304.50 L543.58,304.38 L543.70,304.26 L543.83,304.15 L543.96,304.03 L544.08,303.92 L544.21,303.80 L544.33,303.69 L544.46,303.58 L544.59,303.46 L544.71,303.35 L544.84,303.24 L544.96,303.13 L545.09,303.02 L545.21,302.91 L545.34,302.80 L545.47,302.69 L545.59,302.58 L545.72,302.47 L545.84,302.36 L547.16,301.26 L548.48,300.20 L549.81,299.20 L551.13,298.23 L552.45,297.31 L553.77,296.43 L555.09,295.58 L556.41,294.76 L557.73,293.98 L559.05,293.23 L560.37,292.50 L561.69,291.80 L563.02,291.13 L564.34,290.48 L565.66,289.85 L566.98,289.25 L568.30,288.67 L569.62,288.10 L570.94,287.55 L572.26,287.02 L573.58,286.51 L574.90,286.02 L576.22,285.53 L577.55,285.07 L578.87,284.62 L580.19,284.18 L581.51,283.75 L582.83,283.33 L584.15,282.93 L585.47,282.54 L586.79,282.16 L588.11,281.79 L589.43,281.43 L590.75,281.07 L592.08,280.73 L593.40,280.40 L594.72,280.07 L596.04,279.76 L597.36,279.45 L598.68,279.14 L600.00,278.85 L601.32,278.56 L602.64,278.28 L603.96,278.01 L605.29,277.74 L606.61,277.48 L607.93,277.22 L609.25,276.97 L610.57,276.73 L611.89,276.49 L613.21,276.25 L614.53,276.02 L615.85,275.80 L617.17,275.58 L618.49,275.36 L619.82,275.15 L621.14,274.94 L622.46,274.74 L623.78,274.54 L625.10,274.35 L626.42,274.16 L627.74,273.97 L629.06,273.78 L630.38,273.60 L631.70,273.43 L633.03,273.25 L634.35,273.08 L635.67,272.92 L636.99,272.75 L638.31,272.59 L639.63,272.43 L640.95,272.27 L642.27,272.12 L643.59,271.97 L644.91,271.82 L646.23,271.68 L647.56,271.53 L648.88,271.39 L650.20,271.25 L651.52,271.12 L652.84,270.98 L654.16,270.85 L655.48,270.72 L656.80,270.60 L658.12,270.47 L659.44,270.35 L660.76,270.22 L662.09,270.10 L663.41,269.99 L664.73,269.87 L666.05,269.76 L667.37,269.64 L668.69,269.53 L670.01,269.42 L671.33,269.31 L672.65,269.21 L673.97,269.10 L675.30,269.00 L676.62,268.90 L677.94,268.80 L679.26,268.70 L680.58,268.60 L681.90,268.51 L683.22,268.41 L684.54,268.32 L685.86,268.22 L687.18,268.13 L688.50,268.04 L689.83,267.95 L691.15,267.87 L692.47,267.78 L693.79,267.69 L695.11,267.61 L696.43,267.53 L697.75,267.44 L699.07,267.36 L700.39,267.28 L701.71,267.20 L703.03,267.13 L704.36,267.05 L705.68,266.97 L707.00,266.90 L708.32,266.82 L709.64,266.75 L710.96,266.68 L712.28,266.61 L713.60,266.54 L714.92,266.47 L716.24,266.40 L717.57,266.33 L718.89,266.26 L720.21,266.19 L721.53,266.13 L722.85,266.06 L724.17,266.00 L725.49,265.93 L726.81,265.87 L728.13,265.81 L729.45,265.75 L730.77,265.68 L732.10,265.62 L733.42,265.56 L734.74,265.51 L736.06,265.45 L737.38,265.39 L738.70,265.33 L740.02,265.28 L741.34,265.22 L742.66,265.16 L743.98,265.11 L745.30,265.05 L746.63,265.00 L747.95,264.95 L749.27,264.89 L750.59,264.84 L751.91,264.79 L753.23,264.74 L754.55,264.69 L755.87,264.64 L757.19,264.59 L758.51,264.54 L759.84,264.49 L761.16,264.44 L762.48,264.40 L763.80,264.35 L765.12,264.30 L766.44,264.26 L767.76,264.21 L769.08,264.16 L770.40,264.12 L771.72,264.08 L773.04,264.03 L774.37,263.99 L775.69,263.94 L777.01,263.90 L778.33,263.86 L779.65,263.82 L780.97,263.77 L782.29,263.73 L783.61,263.69 L784.93,263.65 L786.25,263.61 L787.57,263.57 L788.90,263.53 L790.22,263.49 L791.54,263.45 L792.86,263.41 L794.18,263.38 L795.50,263.34 L796.82,263.30 L798.14,263.26 L799.46,263.23 L800.78,263.19 L802.11,263.15 L803.43,263.12 L804.75,263.08 L806.07,263.05 L807.39,263.01 L808.71,262.98" fill="none" stroke="#e0590b" stroke-width="3.5" stroke-linejoin="round"/>
<line x1="90.3" x2="810.4" y1="86.14" y2="86.14" stroke="#5e81b5" stroke-width="3.4" stroke-dasharray="4.95 5.15"/>
<line x1="90.3" x2="810.4" y1="210.82" y2="210.82" stroke="#5e81b5" stroke-width="3.4" stroke-dasharray="4.95 5.15"/>
<line x1="90.3" x2="810.4" y1="248.13" y2="248.13" stroke="#000" stroke-width="3.5" stroke-dasharray="11.3 4.853"/>
</g>
<rect x="76.8" y="0.6" width="747.1" height="461.65" fill="none" stroke="#6e6e6e" stroke-width="1.2"/>
<path d="M91.80,462.25v-8.3M91.80,0.6v8.3M115.70,462.25v-4.8M115.70,0.6v4.8M139.59,462.25v-4.8M139.59,0.6v4.8M163.49,462.25v-4.8M163.49,0.6v4.8M187.39,462.25v-4.8M187.39,0.6v4.8M211.28,462.25v-8.3M211.28,0.6v8.3M235.18,462.25v-4.8M235.18,0.6v4.8M259.08,462.25v-4.8M259.08,0.6v4.8M282.98,462.25v-4.8M282.98,0.6v4.8M306.87,462.25v-4.8M306.87,0.6v4.8M330.77,462.25v-8.3M330.77,0.6v8.3M354.67,462.25v-4.8M354.67,0.6v4.8M378.56,462.25v-4.8M378.56,0.6v4.8M402.46,462.25v-4.8M402.46,0.6v4.8M426.36,462.25v-4.8M426.36,0.6v4.8M450.25,462.25v-8.3M450.25,0.6v8.3M474.15,462.25v-4.8M474.15,0.6v4.8M498.05,462.25v-4.8M498.05,0.6v4.8M521.95,462.25v-4.8M521.95,0.6v4.8M545.84,462.25v-4.8M545.84,0.6v4.8M569.74,462.25v-8.3M569.74,0.6v8.3M593.64,462.25v-4.8M593.64,0.6v4.8M617.53,462.25v-4.8M617.53,0.6v4.8M641.43,462.25v-4.8M641.43,0.6v4.8M665.33,462.25v-4.8M665.33,0.6v4.8M689.22,462.25v-8.3M689.22,0.6v8.3M713.12,462.25v-4.8M713.12,0.6v4.8M737.02,462.25v-4.8M737.02,0.6v4.8M760.92,462.25v-4.8M760.92,0.6v4.8M784.81,462.25v-4.8M784.81,0.6v4.8M808.71,462.25v-8.3M808.71,0.6v8.3M76.8,460.18h4.8M823.9,460.18h-4.8M76.8,439.40h8.3M823.9,439.40h-8.3M76.8,418.62h4.8M823.9,418.62h-4.8M76.8,397.84h4.8M823.9,397.84h-4.8M76.8,377.06h4.8M823.9,377.06h-4.8M76.8,356.28h4.8M823.9,356.28h-4.8M76.8,335.50h8.3M823.9,335.50h-8.3M76.8,314.72h4.8M823.9,314.72h-4.8M76.8,293.94h4.8M823.9,293.94h-4.8M76.8,273.16h4.8M823.9,273.16h-4.8M76.8,252.38h4.8M823.9,252.38h-4.8M76.8,231.60h8.3M823.9,231.60h-8.3M76.8,210.82h4.8M823.9,210.82h-4.8M76.8,190.04h4.8M823.9,190.04h-4.8M76.8,169.26h4.8M823.9,169.26h-4.8M76.8,148.48h4.8M823.9,148.48h-4.8M76.8,127.70h8.3M823.9,127.70h-8.3M76.8,106.92h4.8M823.9,106.92h-4.8M76.8,86.14h4.8M823.9,86.14h-4.8M76.8,65.36h4.8M823.9,65.36h-4.8M76.8,44.58h4.8M823.9,44.58h-4.8M76.8,23.80h8.3M823.9,23.80h-8.3M76.8,3.02h4.8M823.9,3.02h-4.8" stroke="#6e6e6e" stroke-width="1.2" fill="none"/>
<g font-family="Liberation Sans, sans-serif" fill="#646464">
<text transform="translate(72.49,485.00) scale(1,1.06)" font-size="20" text-anchor="start">0.00</text>
<text transform="translate(191.97,485.00) scale(1,1.06)" font-size="20" text-anchor="start">0.05</text>
<text transform="translate(311.46,485.00) scale(1,1.06)" font-size="20" text-anchor="start">0.</text>
<path d="M763 0H583V1147Q518 1085 412.5 1023T223 930V1104Q373 1174.5 485.5 1275T645 1470H763Z" transform="translate(328.14,485.00) scale(0.009766,-0.009766)"/>
<text transform="translate(339.26,485.00) scale(1,1.06)" font-size="20" text-anchor="start">0</text>
<text transform="translate(430.95,485.00) scale(1,1.06)" font-size="20" text-anchor="start">0.</text>
<path d="M763 0H583V1147Q518 1085 412.5 1023T223 930V1104Q373 1174.5 485.5 1275T645 1470H763Z" transform="translate(447.63,485.00) scale(0.009766,-0.009766)"/>
<text transform="translate(458.75,485.00) scale(1,1.06)" font-size="20" text-anchor="start">5</text>
<text transform="translate(550.43,485.00) scale(1,1.06)" font-size="20" text-anchor="start">0.20</text>
<text transform="translate(669.91,485.00) scale(1,1.06)" font-size="20" text-anchor="start">0.25</text>
<text transform="translate(789.40,485.00) scale(1,1.06)" font-size="20" text-anchor="start">0.30</text>
<path d="M763 0H583V1147Q518 1085 412.5 1023T223 930V1104Q373 1174.5 485.5 1275T645 1470H763Z" transform="translate(58.58,29.80) scale(0.009766,-0.009766)"/>
<text transform="translate(58.58,133.70) scale(1,1.06)" font-size="20" text-anchor="start">0</text>
<path d="M763 0H583V1147Q518 1085 412.5 1023T223 930V1104Q373 1174.5 485.5 1275T645 1470H763Z" transform="translate(58.58,237.60) scale(0.009766,-0.009766)"/>
<text transform="translate(58.58,341.50) scale(1,1.06)" font-size="20" text-anchor="start">2</text>
<text transform="translate(58.58,445.40) scale(1,1.06)" font-size="20" text-anchor="start">3</text>
<text transform="translate(339.40,516.60) scale(1,1.06)" font-size="20.8" text-anchor="start">Non</text>
<text transform="translate(392.05,516.60) scale(1,1.06)" font-size="20.25" text-anchor="start">local</text>
<text transform="translate(440.50,516.60) scale(1,1.06)" font-size="20.25" text-anchor="start">parameter</text>
<text transform="translate(539.60,516.60) scale(1,1.06)" font-size="20.25" text-anchor="start">A</text>
<text transform="translate(24.50,416.80) rotate(-90) scale(1,1.06)" font-size="20.25" text-anchor="start">Orbital period derivative dP</text>
<text transform="translate(24.50,165.20) rotate(-90) scale(1,1.06)" font-size="20.25" text-anchor="start">dt</text>
<text transform="translate(23.45,142.1) rotate(-90) scale(1.1,1.06)" font-size="20.25">(</text>
<text transform="translate(24.50,133.70) rotate(-90) scale(1,1.06)" font-size="20.25" text-anchor="start">x</text>
<path d="M763 0H583V1147Q518 1085 412.5 1023T223 930V1104Q373 1174.5 485.5 1275T645 1470H763Z" transform="translate(24.50,117.95) rotate(-90) scale(0.009888,-0.009888)"/>
<text transform="translate(24.50,106.69) rotate(-90) scale(1,1.06)" font-size="20.25" text-anchor="start">0</text>
<path d="M763 0H583V1147Q518 1085 412.5 1023T223 930V1104Q373 1174.5 485.5 1275T645 1470H763Z" transform="translate(14.90,82.85) rotate(-90) scale(0.008057,-0.008057)"/>
<text transform="translate(14.90,71.70) rotate(-90) scale(1,1.06)" font-size="16.5" text-anchor="start">4</text>
<text transform="translate(23.45,54.9) rotate(-90) scale(1.1,1.06)" font-size="20.25">)</text>
</g>
<path d="M43.9,231.45h12.5M43.9,335.35h12.5M43.9,439.25h12.5" stroke="#646464" stroke-width="1.5" fill="none"/>
<path d="M378.0,510.8h12.4" stroke="#646464" stroke-width="1.6" fill="none"/>
<path d="M10.3,94.6v-8.7" stroke="#646464" stroke-width="1.3" fill="none"/>
<path d="M27.9,171.5L7.8,164.6" stroke="#646464" stroke-width="1.5" fill="none"/>
<text x="451.8" y="267.3" text-anchor="middle" font-family="Liberation Sans, sans-serif" font-weight="bold" font-size="13.8" fill="#000">GR</text>
</svg>
</body></html>
